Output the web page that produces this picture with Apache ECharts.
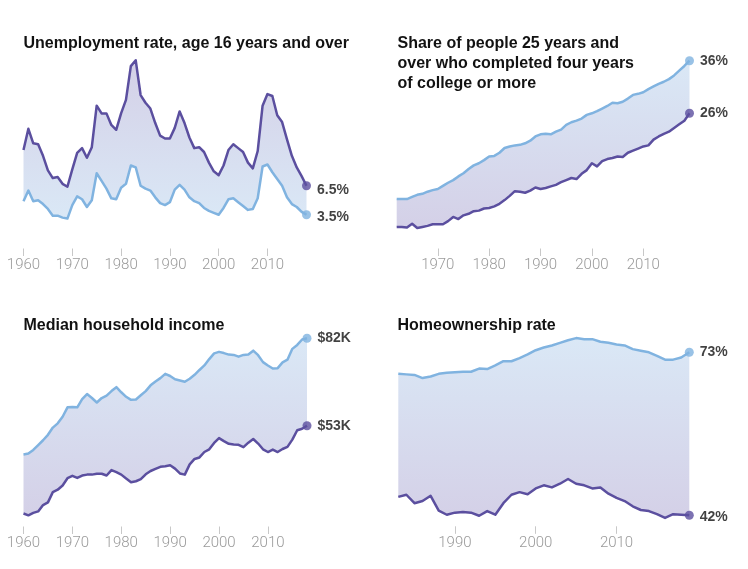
<!DOCTYPE html>
<html><head><meta charset="utf-8">
<script src="https://cdn.jsdelivr.net/npm/echarts@6/dist/echarts.min.js"></script>
<style>html,body{margin:0;padding:0;background:#fff}#c{width:748px;height:569px}</style>
</head><body><div id="c"></div>
<script>
// ---------- DATA ----------
const titles = [
  'Unemployment rate, age 16 years and over',
  'Share of people 25 years and\nover who completed four years\nof college or more',
  'Median household income',
  'Homeownership rate'
];

const unempStart = 1960;
const unempBlack = [10.2,12.4,10.9,10.8,9.6,8.1,7.3,7.4,6.7,6.4,
  8.2,9.9,10.4,9.4,10.5,14.8,14.0,14.0,12.8,12.3,
  14.0,15.4,18.9,19.5,15.9,15.1,14.5,13.0,11.7,11.4,
  11.4,12.5,14.2,13.0,11.5,10.4,10.5,10.0,8.9,8.0,
  7.6,8.6,10.2,10.8,10.4,10.0,8.9,8.3,10.1,14.8,
  16.0,15.8,13.8,13.1,11.3,9.6,8.4,7.5,6.5];
const unempWhite = [4.9,6.0,4.9,5.0,4.6,4.1,3.4,3.4,3.2,3.1,
  4.5,5.4,5.1,4.3,5.0,7.8,7.0,6.2,5.2,5.1,
  6.3,6.7,8.6,8.4,6.5,6.2,6.0,5.3,4.7,4.5,
  4.8,6.1,6.6,6.1,5.3,4.9,4.7,4.2,3.9,3.7,
  3.5,4.2,5.1,5.2,4.8,4.4,4.0,4.1,5.2,8.5,
  8.7,7.9,7.2,6.5,5.3,4.6,4.3,3.8,3.5];
const unempTicks = [1960,1970,1980,1990,2000,2010];
const unempEndLabels = ['3.5%','6.5%']; // [white, black]

const collegeStart = 1962;
const collegeWhite = [9.7,9.7,9.7,10.1,10.5,10.7,11.1,11.4,
  11.6,12.2,12.8,13.3,14.0,14.6,15.4,16.1,16.5,17.1,
  17.8,17.9,18.5,19.4,19.7,19.9,20.0,20.3,20.8,21.6,
  22.0,22.1,22.0,22.5,22.9,23.8,24.3,24.6,25.0,25.7,
  26.0,26.4,26.9,27.4,28.0,27.9,28.2,28.8,29.5,29.7,
  30.0,30.6,31.1,31.6,32.0,32.5,33.2,34.1,35.0,36.0];
const collegeBlack = [4.4,4.4,4.3,5.0,4.2,4.4,4.6,4.9,
  4.9,4.9,5.5,6.3,5.9,6.6,6.9,7.4,7.5,7.9,
  8.0,8.3,8.8,9.5,10.3,11.2,11.1,10.9,11.3,11.9,
  11.6,11.8,12.1,12.4,12.9,13.3,13.7,13.5,14.5,15.2,
  16.5,15.9,16.9,17.3,17.5,17.8,17.7,18.5,18.9,19.3,
  19.7,19.9,21.0,21.6,22.1,22.5,23.2,23.9,24.6,26.0];
const collegeTicks = [1970,1980,1990,2000,2010];
const collegeEndLabels = ['36%','26%'];

const incomeStart = 1960;
const incomeWhite = [43.5,43.8,45.0,46.6,48.2,50.0,52.4,53.8,56.0,59.1,
  59.2,59.1,61.8,63.5,62.2,60.7,62.2,63.0,64.5,65.8,
  64.1,62.6,61.6,61.7,63.1,64.5,66.4,67.7,68.8,70.2,
  69.5,68.4,68.0,67.6,68.6,69.9,71.5,73.0,75.1,77.0,
  77.5,77.1,76.6,76.5,75.9,76.5,76.6,77.9,76.4,74.1,
  73.0,72.0,72.1,74.0,74.9,78.5,79.8,81.6,82.0];
const incomeBlack = [23.9,23.3,24.1,24.6,26.7,27.6,31.0,31.8,33.2,35.6,
  36.4,35.7,36.5,36.8,36.8,37.1,37.1,36.5,38.3,37.6,
  36.8,35.5,34.3,34.6,35.3,36.9,38.0,38.7,39.4,39.6,
  39.9,38.8,37.2,36.8,40.2,42.0,42.5,44.3,45.2,47.3,
  48.9,47.9,47.0,46.8,46.7,45.9,47.4,48.6,47.1,45.2,
  44.3,45.1,44.3,45.3,46.0,48.4,51.5,52.0,53.0];
const incomeTicks = [1960,1970,1980,1990,2000,2010];
const incomeEndLabels = ['$82K','$53K'];

const homeStart = 1983;
const homeWhite = [68.9,68.8,68.7,68.1,68.4,68.9,69.1,
  69.2,69.3,69.3,69.9,69.8,70.5,71.3,71.3,71.9,72.6,
  73.4,73.9,74.3,74.8,75.3,75.7,75.5,75.5,75.0,74.8,
  74.5,74.3,73.6,73.3,73.0,72.3,71.6,71.6,72.0,73.0];
const homeBlack = [45.5,45.9,44.3,44.7,45.7,42.9,42.1,
  42.5,42.6,42.5,41.9,42.8,42.1,44.3,45.9,46.4,46.0,
  47.1,47.7,47.3,48.0,48.9,48.0,47.7,47.1,47.3,46.1,
  45.3,44.7,43.7,43.0,42.8,42.2,41.5,42.2,42.1,42.0];
const homeTicks = [1990,2000,2010];
const homeEndLabels = ['73%','42%'];

// ---------- STYLE / LAYOUT ----------
const BLUE = '#80b3e0', PURPLE = '#5b4f9f';
const FILL_BLUE = '#dae8f6', FILL_PURPLE = '#d4d0e7';
const panels = [
  {white: unempWhite, black: unempBlack, start: unempStart, ticks: unempTicks, labels: unempEndLabels,
   grid: {left: 23.5, top: 60.3, width: 283, height: 188.2}, xmin: 1960, xmax: 2018, ymin: 0, ymax: 19.5,
   title: {left: 23.5, top: 33.5}, blackOnTop: true, offW: 2.5, offB: 4},
  {white: collegeWhite, black: collegeBlack, start: collegeStart, ticks: collegeTicks, labels: collegeEndLabels,
   grid: {left: 396.7, top: 60.7, width: 292.8, height: 187.8}, xmin: 1962, xmax: 2019, ymin: 0.3, ymax: 36,
   title: {left: 397.5, top: 33.5}, blackOnTop: false, offW: 0, offB: 0},
  {white: incomeWhite, black: incomeBlack, start: incomeStart, ticks: incomeTicks, labels: incomeEndLabels,
   grid: {left: 23.5, top: 338.3, width: 283.5, height: 188.2}, xmin: 1960, xmax: 2018, ymin: 19.6, ymax: 82,
   title: {left: 23.5, top: 316}, blackOnTop: false, offW: 0, offB: 0},
  {white: homeWhite, black: homeBlack, start: homeStart, ticks: homeTicks, labels: homeEndLabels,
   grid: {left: 398.3, top: 338.1, width: 291, height: 188.2}, xmin: 1983, xmax: 2019, ymin: 39.9, ymax: 75.7,
   title: {left: 397.5, top: 316}, blackOnTop: false, offW: 0, offB: 1.5}
];

const grids = [], xAxes = [], yAxes = [], series = [], graphics = [];
panels.forEach((p, i) => {
  grids.push(Object.assign({containLabel: false, outerBoundsMode: 'none'}, p.grid));
  xAxes.push({
    gridIndex: i, type: 'value', min: p.xmin, max: p.xmax,
    axisLine: {show: false}, splitLine: {show: false},
    axisTick: {show: true, length: 7.5, lineStyle: {color: '#c8c8c8', width: 1}, customValues: p.ticks},
    axisLabel: {show: true, customValues: p.ticks, margin: 9, color: '#9a9a9a', fontSize: 15,
      fontFamily: 'Roboto', fontWeight: 300, formatter: v => String(v)}
  });
  yAxes.push({gridIndex: i, type: 'value', min: p.ymin, max: p.ymax, show: false});

  const w = p.white.map((v, k) => [p.start + k, v]);
  const b = p.black.map((v, k) => [p.start + k, v]);
  const band = p.white.map((v, k) => [p.start + k, v, p.black[k]]);
  const topC = p.blackOnTop ? FILL_PURPLE : FILL_BLUE;
  const botC = p.blackOnTop ? FILL_BLUE : FILL_PURPLE;

  series.push({
    type: 'custom', xAxisIndex: i, yAxisIndex: i, data: band, silent: true, z: 1, clip: false,
    encode: {x: 0, y: [1, 2]},
    renderItem: function (params, api) {
      if (params.dataIndex !== 0) return null;
      const upper = band.map(r => api.coord([r[0], r[1]]));
      const lower = band.map(r => api.coord([r[0], r[2]]));
      const pts = upper.concat(lower.reverse());
      return {
        type: 'polygon', shape: {points: pts},
        style: {fill: new echarts.graphic.LinearGradient(0, 0, 0, 1,
          [{offset: 0, color: topC}, {offset: 1, color: botC}]), stroke: null}
      };
    }
  });
  series.push({type: 'line', xAxisIndex: i, yAxisIndex: i, data: w, showSymbol: false, symbol: 'none',
    lineStyle: {color: BLUE, width: 2.5, join: 'round'}, clip: false, z: 3});
  series.push({type: 'line', xAxisIndex: i, yAxisIndex: i, data: b, showSymbol: false, symbol: 'none',
    lineStyle: {color: PURPLE, width: 2.5, join: 'round'}, clip: false, z: 3});

  const lab = (txt, off) => ({show: true, position: 'right', distance: 6, formatter: txt,
    fontSize: 14, fontWeight: 'bold', fontFamily: 'Liberation Sans', color: '#121212', offset: [0, off]});
  series.push({type: 'scatter', xAxisIndex: i, yAxisIndex: i, symbolSize: 9, clip: false, z: 4,
    data: [
      {value: w[w.length - 1], itemStyle: {color: BLUE}, label: lab(p.labels[0], p.offW)},
      {value: b[b.length - 1], itemStyle: {color: PURPLE}, label: lab(p.labels[1], p.offB)}
    ]});

  graphics.push({type: 'text', left: p.title.left, top: p.title.top, z: 10,
    style: {text: titles[i], font: 'bold 16px "Liberation Sans"', fill: '#121212', lineHeight: 20}});
});

const chart = echarts.init(document.getElementById('c'), null, {renderer: 'canvas'});
chart.setOption({
  backgroundColor: '#ffffff',
  animation: false,
  grid: grids, xAxis: xAxes, yAxis: yAxes, series: series, graphic: graphics
});
</script></body></html>
